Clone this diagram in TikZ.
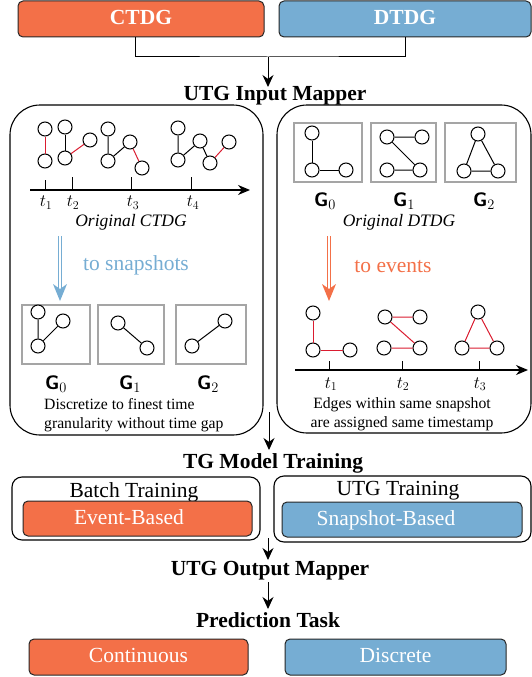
\documentclass[tikz,border=0pt]{standalone}
\usepackage{fontspec}
\setmainfont{Liberation Serif}
\usetikzlibrary{arrows.meta,calc}
\definecolor{corange}{RGB}{243,112,72}
\definecolor{cblue}{RGB}{118,173,211}
\definecolor{cred}{RGB}{218,28,48}
\definecolor{cgray}{RGB}{165,165,165}
\begin{document}
\begin{tikzpicture}[x=1pt,y=-1pt,
  gn/.style={circle,draw,line width=1pt,minimum size=14pt,inner sep=0pt,fill=white},
  ge/.style={line width=1pt},
  re/.style={line width=1pt,draw=cred},
  bigbox/.style={draw,line width=1.1pt,rounded corners=30pt},
  subbox/.style={draw,line width=1.1pt,rounded corners=10pt},
  headtxt/.style={anchor=base,inner sep=0pt,font=\bfseries\fontsize{21.5}{24}\selectfont},
  colbox/.style={draw=black!85,line width=1pt,rounded corners=5pt,text=white,
     text height=14pt,text depth=3pt,inner sep=0pt,font=\fontsize{21.5}{24}\selectfont},
  snapbox/.style={draw=cgray,line width=1.2pt,inner sep=0pt},
  glab/.style={anchor=base,inner sep=0pt,font=\fontsize{19.5}{22}\selectfont},
  tlab/.style={anchor=base,inner sep=0pt,font=\fontsize{17.5}{20}\selectfont},
  ital/.style={anchor=base,inner sep=0pt,font=\itshape\fontsize{17.5}{20}\selectfont},
  note/.style={inner sep=0pt,font=\fontsize{15.7}{19}\selectfont},
  tolab/.style={anchor=base,inner sep=0pt,font=\fontsize{21.5}{24}\selectfont},
  vflow/.style={-{Stealth[length=12pt,width=11pt]},line width=1pt},
  axisline/.style={-{Stealth[length=12pt,width=10pt]},line width=1.2pt},
  tick/.style={line width=1pt},
  dbl/.style={double=white,double distance=2.6pt,line width=0.9pt}
]
\useasboundingbox (0,0) rectangle (532,677);

% ---------- top boxes ----------
\node[colbox,fill=corange,minimum width=246pt,minimum height=36pt] (ctdg) at (141,19) {\bfseries CTDG};
\node[colbox,fill=cblue,minimum width=252pt,minimum height=36pt] (dtdg) at (405,19) {\bfseries DTDG};
\coordinate (cj) at (135,37);
\coordinate (mj) at (268,57);
\draw[line width=1pt] (cj) |- (mj) -| (dtdg.south);
\node[headtxt] (inmap) at (275,100) {UTG Input Mapper};
\draw[vflow] (mj) -- (268,87);

% ---------- big boxes ----------
\draw[bigbox] (10,105) rectangle (263,435);
\draw[bigbox] (277,105) rectangle (531,433);

% ---------- left: original CTDG ----------
\node[gn] (a1) at (45,129) {};
\node[gn] (a2) at (45,161) {};
\draw[re] (a1) -- (a2);
\node[gn] (b1) at (65,127) {};
\node[gn] (b2) at (65,158) {};
\node[gn] (b3) at (90,140) {};
\draw[ge] (b1) -- (b2);
\draw[re] (b2) -- (b3);
\node[gn] (c1) at (108,129) {};
\node[gn] (c2) at (108,161) {};
\node[gn] (c3) at (130,142) {};
\node[gn] (c4) at (142,168) {};
\draw[ge] (c1) -- (c2) (c2) -- (c3);
\draw[re] (c3) -- (c4);
\node[gn] (d1) at (178,128) {};
\node[gn] (d2) at (178,160) {};
\node[gn] (d3) at (200,141) {};
\node[gn] (d4) at (210,163) {};
\node[gn] (d5) at (229,142) {};
\draw[ge] (d1) -- (d2) (d2) -- (d3) (d3) -- (d4);
\draw[re] (d4) -- (d5);

\coordinate (lax1) at (30,190);
\coordinate (lax2) at (250,190);
\draw[axisline] (lax1) -- (lax2);
\draw[tick] (45,180) -- (45,190);
\draw[tick] (72,177) -- (72,190);
\draw[tick] (131,177) -- (131,190);
\draw[tick] (191,177) -- (191,190);
\node[tlab] (lt1) at (46,206.5) {$t_1$};
\node[tlab] (lt2) at (73,206.5) {$t_2$};
\node[tlab] (lt3) at (133,206.5) {$t_3$};
\node[tlab] (lt4) at (193,206.5) {$t_4$};
\node[ital] (octdg) at (131,226) {Original CTDG};

% to snapshots
\coordinate (bs) at (60,236);
\coordinate (be) at (60,290);
\draw[dbl,draw=cblue] (bs) -- (be);
\fill[cblue] (53,284) -- (60,301) -- (67,284) -- (60,289) -- cycle;
\node[tolab,text=cblue] (tosnap) at (136,270) {to snapshots};

\node[snapbox,minimum width=68pt,minimum height=59pt] (s0) at (56,334.5) {};
\node[snapbox,minimum width=66pt,minimum height=59pt] (s1) at (131,334.5) {};
\node[snapbox,minimum width=70pt,minimum height=59pt] (s2) at (211,334.5) {};
\node[gn] (e1) at (38,312) {};
\node[gn] (e2) at (63,321) {};
\node[gn] (e3) at (38,346) {};
\draw[ge] (e1) -- (e3) (e3) -- (e2);
\node[gn] (f1) at (118,323) {};
\node[gn] (f2) at (147,348) {};
\draw[ge] (f1) -- (f2);
\node[gn] (g1) at (192,346) {};
\node[gn] (g2) at (225,321) {};
\draw[ge] (g1) -- (g2);
\node[glab] (lg0) at (56,389) {\textsf{\bfseries G}$_0$};
\node[glab] (lg1) at (130,389) {\textsf{\bfseries G}$_1$};
\node[glab] (lg2) at (208,389) {\textsf{\bfseries G}$_2$};
\node[note,anchor=base west,align=left] (disc) at (44,428) {Discretize to finest time\\granularity without time gap};

% ---------- right: original DTDG ----------
\node[snapbox,minimum width=68pt,minimum height=59pt] (h0) at (328,152.5) {};
\node[snapbox,minimum width=65pt,minimum height=59pt] (h1) at (403.5,152.5) {};
\node[snapbox,minimum width=71pt,minimum height=59pt] (h2) at (480.5,152.5) {};
\node[gn] (p1) at (312,133) {};
\node[gn] (p2) at (312,170) {};
\node[gn] (p3) at (346,170) {};
\draw[ge] (p1) -- (p2) (p2) -- (p3);
\node[gn] (q1) at (387,137) {};
\node[gn] (q2) at (422,137) {};
\node[gn] (q3) at (387,170) {};
\node[gn] (q4) at (420,170) {};
\draw[ge] (q1) -- (q2) (q1) -- (q4) (q3) -- (q4);
\node[gn] (r1) at (478,134) {};
\node[gn] (r2) at (464,171) {};
\node[gn] (r3) at (498,171) {};
\draw[ge] (r1) -- (r2) (r2) -- (r3) (r3) -- (r1);
\node[glab] (rg0) at (325,206) {\textsf{\bfseries G}$_0$};
\node[glab] (rg1) at (404,206) {\textsf{\bfseries G}$_1$};
\node[glab] (rg2) at (484,206) {\textsf{\bfseries G}$_2$};
\node[ital] (odtdg) at (399,226) {Original DTDG};

% to events
\coordinate (os) at (329,236);
\coordinate (oe) at (329,290);
\draw[dbl,draw=corange] (os) -- (oe);
\fill[corange] (322,284) -- (329,301) -- (336,284) -- (329,289) -- cycle;
\node[tolab,text=corange] (toev) at (393,272) {to events};

\node[gn] (u1) at (313,313) {};
\node[gn] (u2) at (313,350) {};
\node[gn] (u3) at (350,350) {};
\draw[re] (u1) -- (u2) (u2) -- (u3);
\node[gn] (v1) at (385,317) {};
\node[gn] (v2) at (420,317) {};
\node[gn] (v3) at (384,348) {};
\node[gn] (v4) at (420,348) {};
\draw[re] (v1) -- (v2) (v1) -- (v4) (v3) -- (v4);
\node[gn] (w1) at (478,312) {};
\node[gn] (w2) at (462,348) {};
\node[gn] (w3) at (497,348) {};
\draw[re] (w1) -- (w2) (w2) -- (w3) (w3) -- (w1);

\coordinate (rax1) at (295,370);
\coordinate (rax2) at (528,370);
\draw[axisline] (rax1) -- (rax2);
\draw[tick] (329,361) -- (329,370);
\draw[tick] (402,361) -- (402,370);
\draw[tick] (479,361) -- (479,370);
\node[tlab] (rt1) at (331,388) {$t_1$};
\node[tlab] (rt2) at (403,388) {$t_2$};
\node[tlab] (rt3) at (480,388) {$t_3$};
\node[note,anchor=base,align=center] (edg) at (402,427) {Edges within same snapshot\\are assigned same timestamp};

% ---------- training ----------
\coordinate (ms) at (269,412);
\node[headtxt] (tgmt) at (273,468) {TG Model Training};
\draw[vflow] (ms) -- (269,450);

\draw[subbox] (12,477) rectangle (260,540);
\draw[subbox] (274,476) rectangle (531,542);
\node[tolab] (batch) at (134,497) {Batch Training};
\node[tolab] (utgt) at (398,495) {UTG Training};
\node[colbox,fill=corange,minimum width=229pt,minimum height=35pt] (evb) at (137.5,518.5) {\hspace*{-17pt}Event-Based};
\node[colbox,fill=cblue,minimum width=240pt,minimum height=35pt] (snb) at (402,519.5) {\hspace*{-32pt}Snapshot-Based};

% ---------- output ----------
\coordinate (ts) at (268,538);
\node[headtxt] (outmap) at (270,575) {UTG Output Mapper};
\draw[vflow] (ts) -- (268,560);
\node[headtxt] (pred) at (268,627) {Prediction Task};
\draw[vflow] (268,582) -- (268,609);

\node[colbox,fill=corange,minimum width=219pt,minimum height=36pt] (cont) at (138.5,657) {Continuous};
\node[colbox,fill=cblue,minimum width=221pt,minimum height=36pt] (disc2) at (395.5,657) {Discrete};
\end{tikzpicture}
\end{document}
